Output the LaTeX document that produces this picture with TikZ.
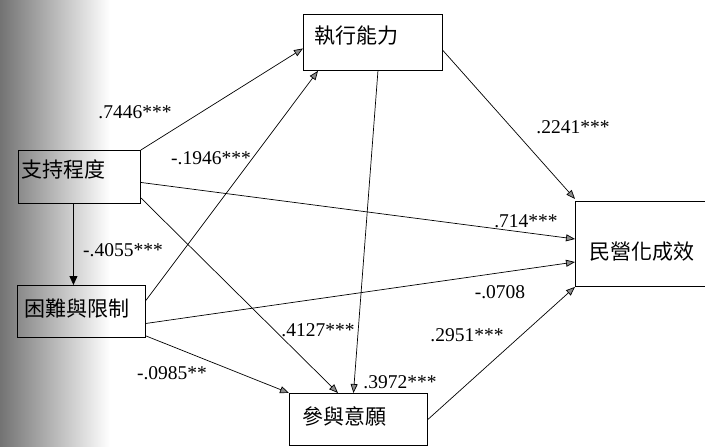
\documentclass[tikz,border=0pt]{standalone}
\usepackage{fontspec}
\setmainfont{Liberation Serif}
\newfontfamily\cjk{Noto Sans CJK TC}
\usetikzlibrary{arrows.meta,calc}
\begin{document}
\begin{tikzpicture}[x=1pt,y=-1pt,
  box/.style={draw=black,line width=0.9pt,rectangle,inner sep=0pt,anchor=north west},
  cjkt/.style={font=\cjk\fontsize{21}{21}\selectfont,inner sep=0pt,anchor=west},
  coef/.style={font=\fontsize{19.5}{19.5}\selectfont,inner sep=0pt},
  link/.style={line width=0.7pt,-{Triangle[length=9pt,width=7pt,fill=black!45]}},
  solidlink/.style={line width=0.8pt,-{Triangle[length=9pt,width=8pt]}}]
\useasboundingbox (0,0) rectangle (705,447);
% scan shadow at the left edge
\shade[left color=black!55,right color=black!40] (0,0) rectangle (30,447);
\shade[left color=black!40,right color=white] (30,0) rectangle (110,447);
% boxes
\node[box,minimum width=139pt,minimum height=56pt] (zx) at (303,14) {};
\node[box,minimum width=122pt,minimum height=53pt] (zc) at (18,150) {};
\node[box,minimum width=128pt,minimum height=52pt] (zd) at (17,285) {};
\node[box,minimum width=138pt,minimum height=52pt] (zy) at (289,393) {};
\node[box,minimum width=145pt,minimum height=85pt] (zm) at (575,201) {};
% box texts
\node[cjkt] (tzx) at (314,36) {執行能力};
\node[cjkt] (tzc) at (21,169) {支持程度};
\node[cjkt] (tzd) at (24,309) {困難與限制};
\node[cjkt] (tzy) at (302,416) {參與意願};
\node[cjkt] (tzm) at (589,252) {民營化成效};
% connectors
\draw[link] (zc.north east) -- ([yshift=-6pt]zx.west);
\draw[link] ([yshift=11pt]zd.east) -- ([xshift=15pt]zx.south west);
\draw[link] ([xshift=5pt]zx.south) -- ([xshift=-5pt]zy.north);
\draw[link] ([yshift=-8pt]zx.east) -- ([yshift=2pt]zm.north west);
\draw[link] ([yshift=-5.5pt]zc.east) -- ([yshift=-38pt]zm.north west);
\draw[link] ([yshift=-12pt]zd.east) -- ([yshift=-61pt]zm.north west);
\draw[link] (zy.east) -- (zm.south west);
\draw[link] ([yshift=6pt]zc.south east) -- ([xshift=49pt]zy.north west);
\draw[link] ([yshift=2pt]zd.south east) -- (zy.north west);
\draw[solidlink] ([xshift=-6pt]zc.south) -- ([xshift=-6pt]zc.south |- zd.north);
% coefficients
\node[coef] (c1) at (135,112) {.7446***};
\node[coef] (c2) at (211,158) {-.1946***};
\node[coef] (c3) at (123,250) {-.4055***};
\node[coef] (c4) at (573,127) {.2241***};
\node[coef] (c5) at (526,221) {.714***};
\node[coef] (c6) at (500,292) {-.0708};
\node[coef] (c7) at (318,330) {.4127***};
\node[coef] (c8) at (172,373) {-.0985**};
\node[coef] (c9) at (467,335) {.2951***};
\node[coef] (c10) at (400,382) {.3972***};
\end{tikzpicture}
\end{document}
